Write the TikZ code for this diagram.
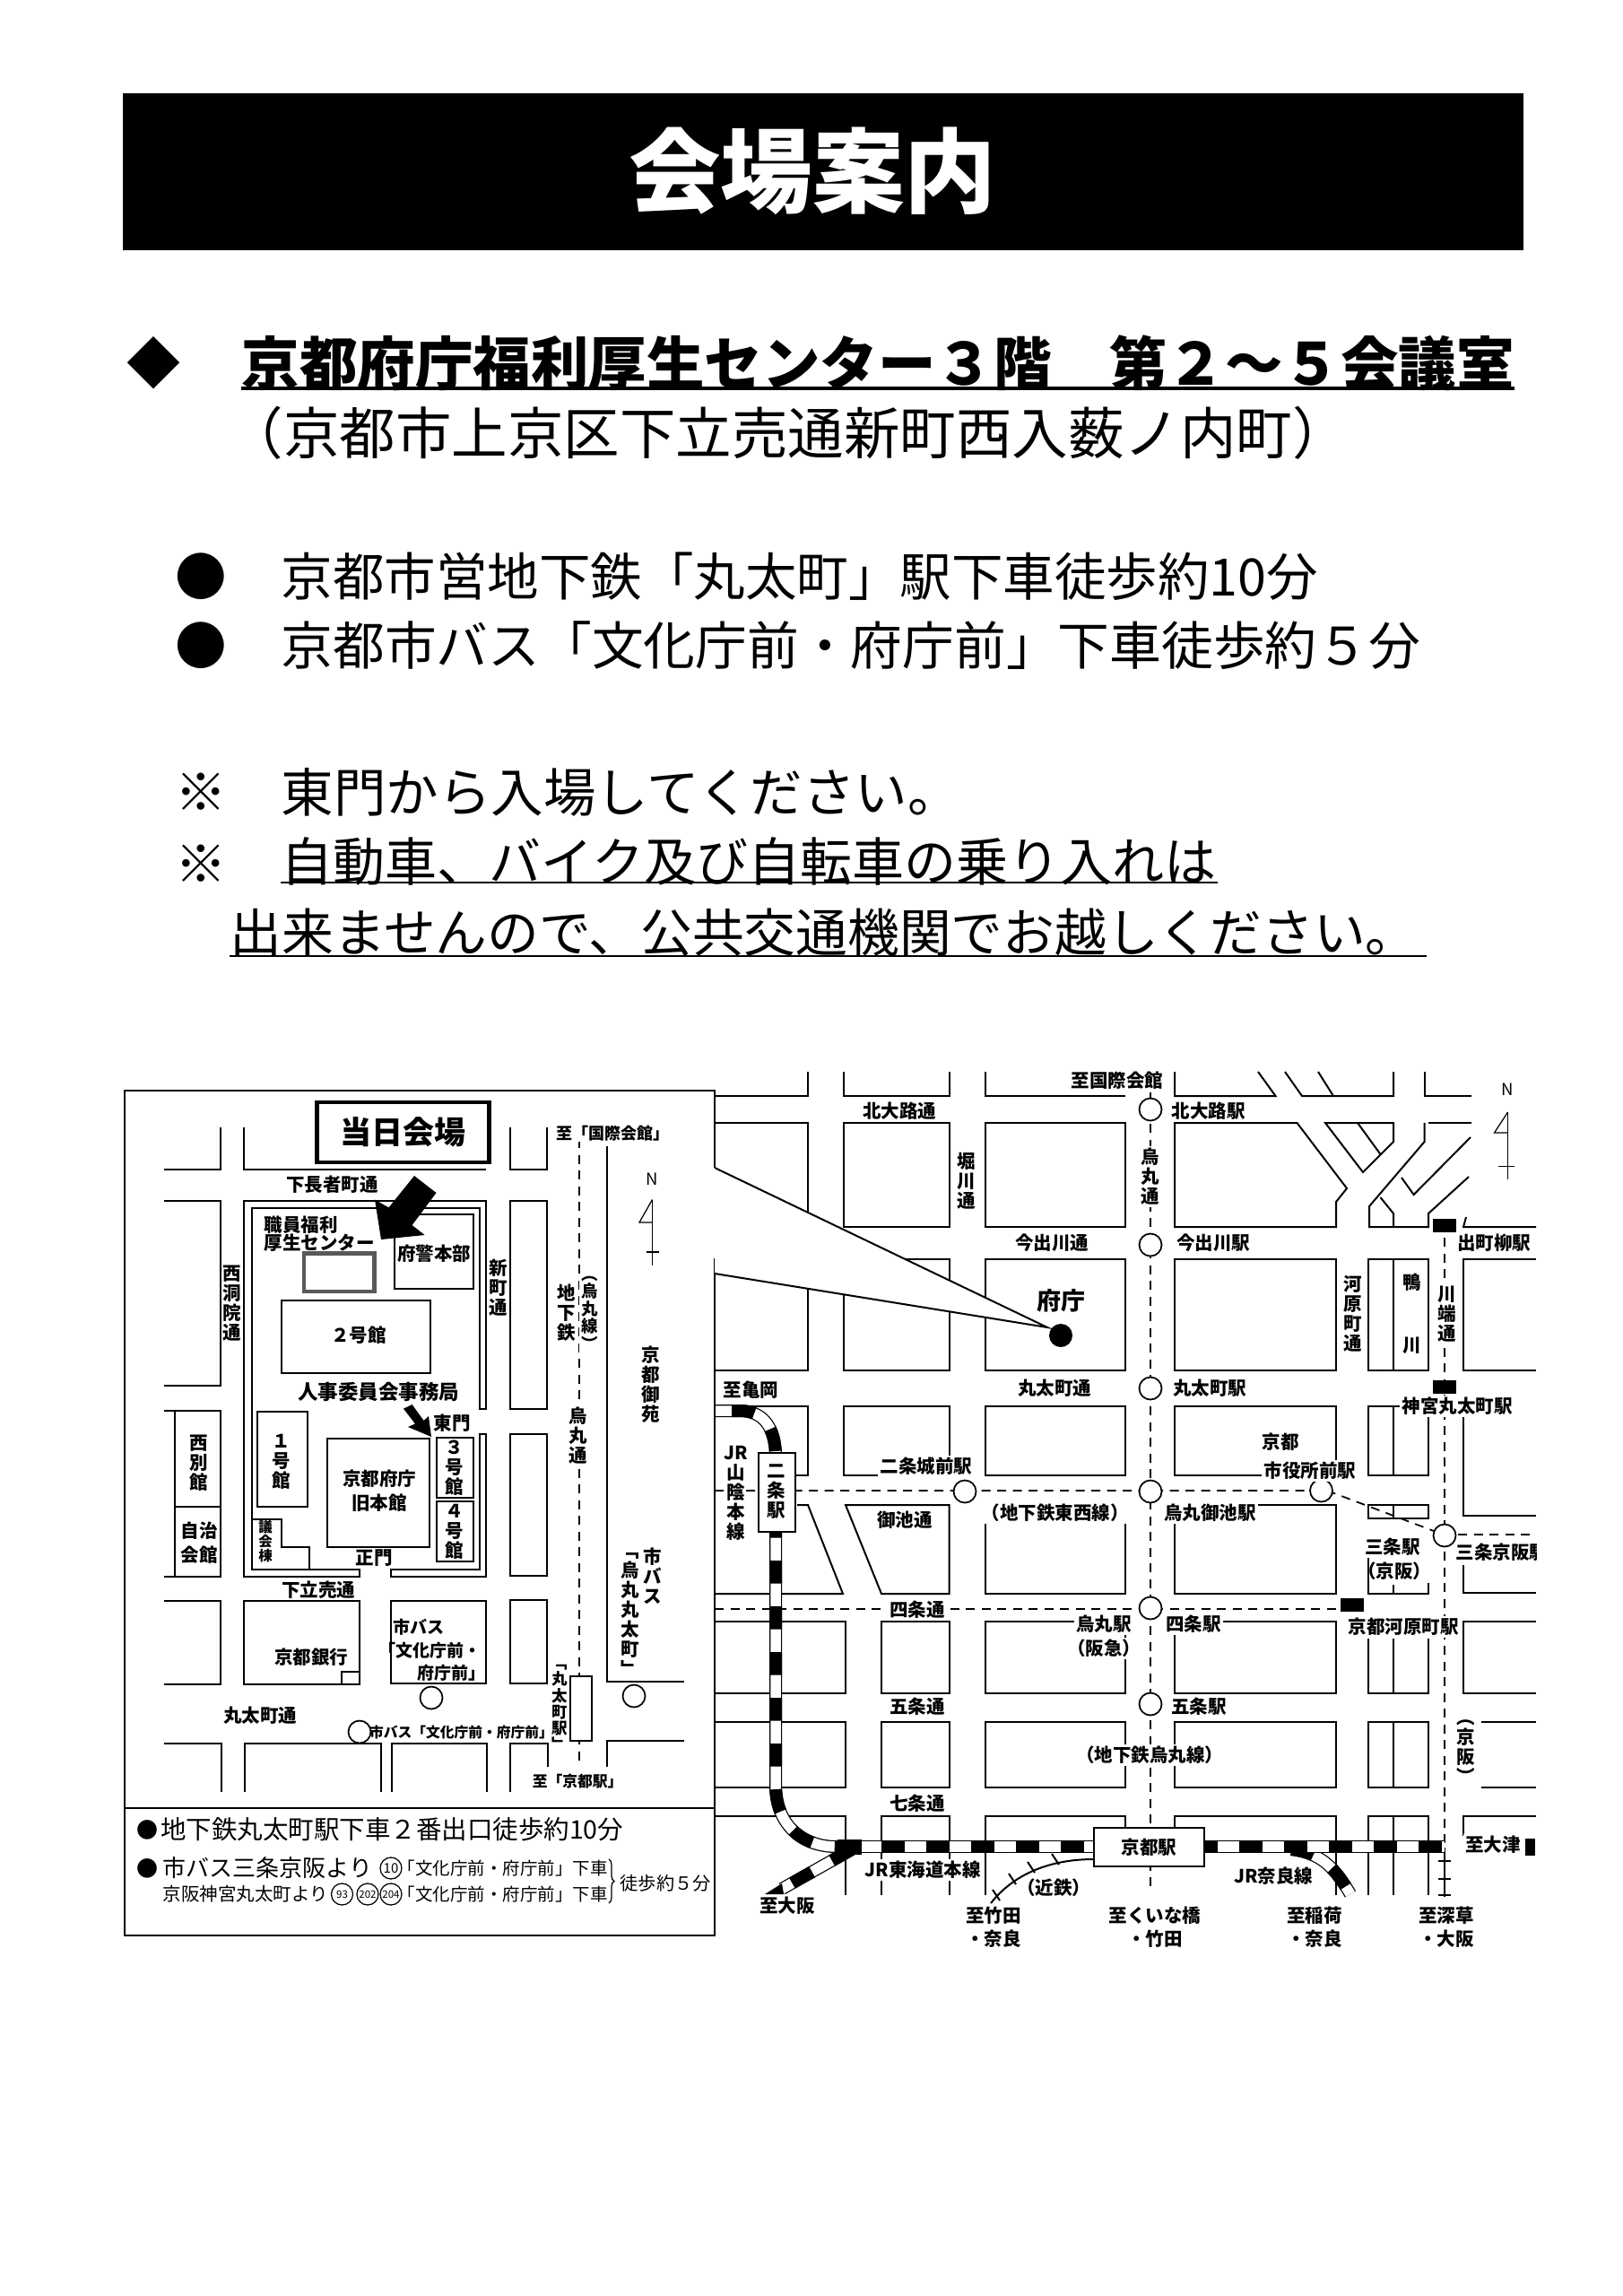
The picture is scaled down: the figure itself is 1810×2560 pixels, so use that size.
\documentclass[tikz,border=0pt]{standalone}
\usepackage{fontspec}
\setmainfont{Noto Sans CJK JP}
\usetikzlibrary{decorations.pathreplacing}
\tikzset{
	road/.style={draw=black, line width=.8pt},
	lab/.style={inner sep=0pt, font=\bfseries\fontsize{8.2}{8.8}\selectfont},
	wlab/.style={lab, fill=white, inner sep=1pt},
	vlab/.style={lab, align=center},
	wvlab/.style={wlab, align=center},
	small/.style={inner sep=0pt, font=\bfseries\fontsize{6.8}{7.4}\selectfont},
	legend/.style={inner sep=0pt, anchor=west, font=\fontsize{7.8}{9}\selectfont},
	bigline/.style={inner sep=0pt, anchor=west},
	metro/.style={line width=.7pt, dash pattern=on 4pt off 3pt},
	station/.style={draw, fill=white, circle, line width=.7pt, minimum size=10pt, inner sep=0pt},
	busno/.style={draw, circle, line width=.5pt, minimum size=9.6pt, inner sep=0pt, font=\fontsize{4.6}{5}\selectfont},
	trackout/.style={line width=5.6pt, draw=black},
	trackin/.style={line width=4.6pt, draw=white},
	trackdash/.style={line width=5.6pt, draw=black, dash pattern=on 10.2pt off 10.2pt},
}
\newcommand{\jrtrack}[2]{
	\draw[trackout] #1;
	\draw[trackin] #1;
	\draw[trackdash, #2] #1;
}
\begin{document}
\begin{tikzpicture}[x=.4pt, y=-.4pt]
	\useasboundingbox (0,0) rectangle (1810,2560);
	% heading
	\fill[black] (137,104) rectangle (1699,279);
	\node[text=white, font=\bfseries\fontsize{41}{44}\selectfont] (title) at (906,191) {会場案内};
	\node[inner sep=0pt, font=\fontsize{24}{26}\selectfont] (diamond) at (171,405) {◆};
	\node[bigline, font=\bfseries\fontsize{25.8}{28}\selectfont] (place) at (269,405) {京都府庁福利厚生センター３階　第２～５会議室};
	\draw[line width=1.3pt] (269,433) -- (1689,433);
	\node[bigline, font=\fontsize{25}{28}\selectfont] (addr) at (253,483) {（京都市上京区下立売通新町西入薮ノ内町）};
	\node[inner sep=0pt, font=\fontsize{23}{26}\selectfont] (dot1) at (224,643) {●};
	\node[bigline, font=\fontsize{23}{26}\selectfont] (subway) at (313,643) {京都市営地下鉄「丸太町」駅下車徒歩約10分};
	\node[inner sep=0pt, font=\fontsize{23}{26}\selectfont] (dot2) at (224,720) {●};
	\node[bigline, font=\fontsize{23.1}{26}\selectfont] (bus) at (313,720) {京都市バス「文化庁前・府庁前」下車徒歩約５分};
	\node[inner sep=0pt, font=\fontsize{23}{26}\selectfont] (note1) at (224,883) {※};
	\node[bigline, font=\fontsize{23.4}{26}\selectfont] (gate) at (313,883) {東門から入場してください。};
	\node[inner sep=0pt, font=\fontsize{23}{26}\selectfont] (note2) at (224,963) {※};
	\node[bigline, font=\fontsize{23.2}{26}\selectfont] (nocar1) at (313,961) {自動車、バイク及び自転車の乗り入れは};
	\draw[line width=.8pt] (313,984) -- (1358,984);
	\node[bigline, font=\fontsize{23.1}{26}\selectfont] (nocar2) at (256,1040) {出来ませんので、公共交通機関でお越しください。};
	\draw[line width=.8pt] (256,1066) -- (1591,1066);

	% city map: blocks
	\foreach \xa/\ya/\xb/\yb in {941/1252/1058.6/1368, 1099/1252/1254.6/1368,
		797/1404/901/1528, 941/1404/1058.6/1528, 1099/1404/1254.6/1528, 1310/1404/1490/1528, 1526/1404/1593/1528,
		941/1568/1058.6/1645, 1099/1568/1254.6/1645, 1310/1568/1490/1645, 1526/1568/1593/1645,
		1526/1678/1593/1693, 1099/1678/1254.6/1777, 1310/1678/1490/1777,
		983/1808/1058.6/1888, 1099/1808/1254.6/1888, 1310/1808/1490/1888,
		983/1920/1058.6/1993, 1099/1920/1254.6/1993, 1310/1920/1490/1993, 1526/1920/1593/1993}
		\draw[road] (\xa,\ya) rectangle (\xb,\yb);
	\foreach \ya/\yb in {1404/1528, 1568/1645, 1678/1693, 1827/1888, 1920/1993, 2025/2113, 1767/1777}
		\draw[road] (1554,\ya) -- (1554,\yb);
	% city map: open road edges
	\draw[road] (797,1222) -- (901,1222) -- (901,1195);
	\draw[road] (941,1195) -- (941,1222) -- (1058.6,1222) -- (1058.6,1195);
	\draw[road] (1099,1195) -- (1099,1222) -- (1254.6,1222);
	\draw[road] (1310,1195) -- (1310,1222) -- (1422.5,1222) -- (1403,1195);
	\draw[road] (1433,1195) -- (1452,1222) -- (1554,1222) -- (1554,1195);
	\draw[road] (1470,1195) -- (1487,1222);
	\draw[road] (1588.6,1195) -- (1588.6,1222) -- (1641,1222);
	\draw[road] (797,1252) -- (901,1252) -- (901,1368);
	\draw[road] (1310,1252) -- (1446.5,1252) -- (1502,1325) -- (1490,1340) -- (1490,1368) -- (1310,1368) -- cycle;
	\draw[road] (1478,1252) -- (1554,1252) -- (1554,1273) -- (1520,1307) -- cycle;
	\draw[road] (1514,1252) -- (1539.5,1287);
	\draw[road] (1588.6,1252) -- (1588.6,1273) -- (1527,1345) -- (1527,1368) -- (1593,1368) -- (1593,1353) -- (1638,1312);
	\draw[road] (1593,1252) -- (1641,1252);
	\draw[road] (1640,1268) -- (1576.6,1332) -- (1563,1313);
	\draw[road] (1539.4,1335) -- (1554,1353) -- (1554,1368);
	\draw[road] (1635,1357) -- (1632,1368) -- (1713,1368);
	\draw[road] (1713,1404) -- (1632,1404) -- (1632,1528) -- (1713,1528);
	\draw[road] (797,1568) -- (901,1568) -- (901,1645) -- (886,1645);
	\draw[road] (1632,1568) -- (1632,1690) -- (1713,1690);
	\draw[road] (889,1678) -- (901,1678) -- (940,1777) -- (797,1777);
	\draw[road] (943,1678) -- (1058.6,1678) -- (1058.6,1777) -- (983,1777) -- cycle;
	\draw[road] (1526,1727) -- (1526,1777) -- (1593,1777) -- (1593,1765);
	\draw[road] (1632,1745) -- (1632,1776) -- (1713,1776);
	\draw[road] (797,1808) -- (943,1808) -- (943,1888) -- (797,1888);
	\draw[road] (1526,1827) -- (1526,1888) -- (1593,1888) -- (1593,1827);
	\draw[road] (1713,1808) -- (1632,1808) -- (1632,1888) -- (1713,1888);
	\draw[road] (797,1920) -- (943,1920) -- (943,1993) -- (797,1993);
	\draw[road] (1651.5,1920) -- (1713,1920);
	\draw[road] (1651.5,1993) -- (1713,1993);
	\draw[road] (797,2025) -- (943,2025) -- (943,2113);
	\draw[road] (983,2113) -- (983,2025) -- (1058.6,2025) -- (1058.6,2113);
	\draw[road] (1099,2113) -- (1099,2025) -- (1254.6,2025) -- (1254.6,2040);
	\draw[road] (1310,2040) -- (1310,2025) -- (1490,2025) -- (1490,2113);
	\draw[road] (1526,2113) -- (1526,2025) -- (1593,2025) -- (1593,2113);
	\draw[road] (1713,2025) -- (1632,2025) -- (1632,2047);
	% city map: subway and private lines
	\draw[metro] (1283,1218) -- (1283,2108);
	\draw[metro] (797,1662) -- (1461,1662) -- (1488,1665) -- (1599,1707);
	\draw[metro] (1626,1711) -- (1713,1711);
	\draw[metro] (797,1794) -- (1494,1794);
	\draw[metro] (1611,1380) -- (1611,2060);
	\draw[road] (1611,2060) -- (1611,2115);
	\foreach \yy in {2075, 2095, 2113}
		\draw[road] (1604,\yy) -- (1618,\yy);
	\draw[road] (1220,2073) .. controls (1170,2073) and (1130,2090) .. (1105,2122);
	\foreach \xx/\yy in {1177/2073, 1150/2082, 1129/2095, 1111/2113}
		\draw[road] (\xx-4,\yy-6) -- (\xx+4,\yy+6);
	\foreach \yy/\nm in {1237/sta1, 1388/sta2, 1548/sta3, 1663/sta4, 1793/sta5, 1900/sta6}
		\node[station] (\nm) at (1283,\yy) {};
	\node[station] (staNijo)  at (1076,1663)   {};
	\node[station] (staCity)  at (1473.5,1662) {};
	\node[station] (staSanjo) at (1611,1712)   {};
	\fill[black] (1598,1358.5) rectangle (1624,1373.5);
	\fill[black] (1598,1538.5) rectangle (1624,1553.5);
	\fill[black] (1494.5,1781.5) rectangle (1520.5,1796.5);
	% JR lines
	\jrtrack{(950,2062) -- (872,2106)}{}
	\jrtrack{(1440,2062) .. controls (1475,2066) and (1490,2085) .. (1506,2112)}{}
	\jrtrack{(797,1573) -- (825,1573) .. controls (850,1573) and (865,1590) .. (865,1625)}{dash phase=12.8pt}
	\jrtrack{(865,1689) -- (865,1990) .. controls (865,2035) and (895,2059) .. (933,2059)}{}
	\jrtrack{(933,2059) -- (1222,2059)}{dash pattern=on 10.4pt off 9.6pt}
	\jrtrack{(1341,2059) -- (1611,2059)}{dash pattern=on 10.4pt off 9.6pt, dash phase=3.6pt}
	\fill[black] (934,2051) rectangle (961,2068);
	\fill[black] (853,2112) -- (872,2100) -- (874,2112) -- cycle;
	\node[draw, fill=white, line width=.8pt, minimum width=16.4pt, minimum height=35.2pt, inner sep=0pt] (nijobox) at (866.5,1664) {};
	\node[vlab] (nijo) at (866,1663) {二\\条\\駅};
	\node[draw, fill=white, line width=.8pt, minimum width=49.2pt, minimum height=17.2pt, inner sep=0pt, lab] (kyotosta) at (1281.5,2059.5) {京都駅};
	\fill[black] (1701,2050) rectangle (1712,2069);
	% callout from the venue map
	\path[fill=white, draw=black, line width=.8pt] (797,1302) -- (1168,1480) -- (797,1420);
	\fill[black] (1183,1489) circle (13);
	% city map: labels
	\node[lab] (toKokusai) at (1246,1205) {至国際会館};
	\node[lab] (kitaojiSt) at (1003,1239) {北大路通};
	\node[lab] (kitaojiEk) at (1347.5,1239) {北大路駅};
	\node[vlab] (horikawa) at (1078,1317) {堀\\川\\通};
	\node[wvlab] (karasuma) at (1283,1312) {烏\\丸\\通};
	\node[lab] (imadeSt) at (1173,1386) {今出川通};
	\node[lab] (imadeEk) at (1353,1386) {今出川駅};
	\node[lab, font=\bfseries\fontsize{10.8}{12}\selectfont] (futyo) at (1183,1450) {府庁};
	\node[vlab] (kawaramachi) at (1509,1465) {河\\原\\町\\通};
	\node[lab] (kamo) at (1575,1430) {鴨};
	\node[lab] (kawa) at (1575,1500) {川};
	\node[wvlab] (kawabata) at (1614,1465) {川\\端\\通};
	\node[wlab] (demachi) at (1666,1386) {出町柳駅};
	\node[lab] (maruSt) at (1176,1548) {丸太町通};
	\node[lab] (maruEk) at (1349,1548) {丸太町駅};
	\node[lab] (toKameoka) at (837.5,1550) {至亀岡};
	\node[wlab] (jingu) at (1625,1568) {神宮丸太町駅};
	\node[wlab, anchor=west] (cityA) at (1404.5,1608) {京都};
	\node[wlab] (cityB) at (1461,1640) {市役所前駅};
	\node[wlab] (nijojo) at (1033,1635) {二条城前駅};
	\node[vlab] (sanin) at (821,1665) {JR\\山\\陰\\本\\線};
	\node[lab] (oike) at (1009,1695) {御池通};
	\node[wlab] (tozai) at (1176.8,1687) {（地下鉄東西線）};
	\node[wlab] (oikeEk) at (1349.5,1687) {烏丸御池駅};
	\node[wlab] (sanjoA) at (1553,1725) {三条駅};
	\node[lab] (sanjoB) at (1555,1752) {（京阪）};
	\begin{scope}
		\clip (1600,1690) rectangle (1713,1770);
		\node[lab, anchor=west] (sanjoK) at (1623,1731) {三条京阪駅};
	\end{scope}
	\node[wlab] (shijoSt) at (1023,1795) {四条通};
	\node[wlab] (karaEk) at (1231,1811) {烏丸駅};
	\node[wlab] (hankyu) at (1231,1838) {（阪急）};
	\node[wlab] (shijoEk) at (1331,1811) {四条駅};
	\node[wlab] (kawaraEk) at (1565,1814) {京都河原町駅};
	\node[lab] (gojoSt) at (1023,1903) {五条通};
	\node[lab] (gojoEk) at (1337,1903) {五条駅};
	\node[wlab] (karaLine) at (1282,1957) {（地下鉄烏丸線）};
	\node[wvlab] (keihan) at (1635,1953) {︵\\京\\阪\\︶};
	\node[lab] (shichijo) at (1023,2011) {七条通};
	\node[wlab] (tokaido) at (1029,2085) {JR東海道本線};
	\node[wlab] (naraLine) at (1420,2092) {JR奈良線};
	\node[lab] (kintetsu) at (1175,2105) {（近鉄）};
	\node[wlab] (toOtsu) at (1665,2057) {至大津};
	\node[lab] (toOsaka) at (878,2125) {至大阪};
	\node[lab, align=center] (toTakeda) at (1108,2149) {至竹田\\[1.6pt]・奈良};
	\node[lab, align=center] (toKuina) at (1288,2149) {至くいな橋\\[1.6pt]・竹田};
	\node[lab, align=center] (toInari) at (1466,2149) {至稲荷\\[1.6pt]・奈良};
	\node[lab, align=center] (toFuka) at (1613,2149) {至深草\\[1.6pt]・大阪};
	\node[inner sep=0pt, font=\fontsize{7.4}{8}\selectfont] (northB) at (1681.5,1215) {N};
	\draw[road, line width=.5pt] (1681.5,1240) -- (1681.5,1315);
	\draw[road, line width=.5pt] (1681.5,1240) -- (1666.5,1263) -- (1681.5,1263);
	\draw[road, line width=.5pt] (1671,1300.7) -- (1689,1300.7);

	% venue map: frame
	\draw[road] (797,1302) -- (797,1216) -- (139,1216) -- (139,2158) -- (797,2158) -- (797,1420);
	\draw[road] (139,2016) -- (797,2016);
	% venue map: blocks
	\foreach \xa/\ya/\xb/\yb in {569/1339/610/1571, 569/1599/610/1757, 272/1785/401/1878, 436/1785/542/1877,
		569/1784/610/1877, 381/1864/401/1878, 440/1354/528/1437, 313.5/1450/479.5/1531, 287/1574/342.5/1680,
		487/1603/528/1670, 487/1674/528/1741}
		\draw[road] (\xa,\ya) rectangle (\xb,\yb);
	\draw[road, line width=.5pt] (365,1604) rectangle (479,1725);
	\draw[road] (246,1257) -- (246,1304) -- (183,1304);
	\draw[road] (272,1257) -- (272,1304) -- (542,1304);
	\draw[road] (569,1257) -- (569,1304) -- (610,1304) -- (610,1257);
	\draw[road] (183,1339) -- (246,1339) -- (246,1545) -- (183,1545);
	\draw[road] (183,1573) -- (246,1573) -- (246,1758) -- (183,1758);
	\draw[road] (195,1573) -- (195,1758);
	\draw[road] (195,1680) -- (246,1680);
	\draw[road] (183,1785) -- (246,1785) -- (246,1878) -- (183,1878);
	\draw[road] (183,1944) -- (247,1944) -- (247,1998);
	\draw[road] (273,1998) -- (273,1944) -- (425,1944) -- (425,1998);
	\draw[road] (437,1998) -- (437,1944) -- (543,1944) -- (543,1998);
	\draw[road] (569,1998) -- (569,1944) -- (611,1944) -- (611,1970);
	\draw[road] (677,1278) -- (677,1875) -- (763,1875);
	\draw[road] (763,1941) -- (677,1941) -- (677,1970);
	% venue map: compound walls
	\draw[road] (542,1571) -- (542,1339) -- (272,1339) -- (272,1758) -- (401,1758) -- (401,1750) -- (281,1750) -- (281,1347) -- (535,1347) -- (535,1571) -- cycle;
	\draw[road] (542,1599) -- (542,1758) -- (436,1758) -- (436,1750) -- (535,1750) -- (535,1599) -- cycle;
	\draw[road] (281,1693.5) -- (313.5,1693.5) -- (313.5,1725) -- (345,1725) -- (345,1750);
	\draw[draw=black!65, line width=1.9pt] (339,1397.5) rectangle (417.5,1440);
	\draw[metro, line width=.6pt] (646,1270) -- (646,1970);
	% venue map: arrows
	\fill[black] (462,1311) -- (486.5,1330) -- (459.6,1366) -- (473.5,1377) -- (425,1382) -- (418,1337.5) -- (433.5,1346.4) -- cycle;
	\fill[black] (450,1570.7) -- (459.6,1566) -- (472.6,1584) -- (478,1579) -- (481,1602) -- (455,1591) -- (463,1587.5) -- cycle;
	\node[draw, fill=white, line width=1.9pt, minimum width=77pt, minimum height=26.8pt, inner sep=0pt, font=\bfseries\fontsize{14}{16}\selectfont] (today) at (449.5,1262.5) {当日会場};
	\node[station, minimum size=10pt] (busA) at (481,1893) {};
	\node[station, minimum size=10pt] (busB) at (707,1891) {};
	\node[station, minimum size=10pt] (busC) at (401,1931) {};
	\node[draw, fill=white, line width=.8pt, minimum width=9.6pt, minimum height=28.8pt, inner sep=0pt] (maruBox) at (648,1905) {};
	% venue map: labels
	\node[small, fill=white, font=\bfseries\fontsize{7.2}{7.4}\selectfont] (toIntl) at (683,1264) {至「国際会館」};
	\node[lab] (shimoCho) at (370.5,1321) {下長者町通};
	\node[lab, anchor=west] (welfareA) at (294,1366) {職員福利};
	\node[lab, anchor=west] (welfareB) at (294,1386) {厚生センター};
	\node[lab] (police) at (484,1398) {府警本部};
	\node[vlab] (nishinoto) at (259,1453) {西\\洞\\院\\通};
	\node[vlab] (shinmachi) at (556,1436) {新\\町\\通};
	\node[lab] (bldg2) at (400,1489) {２号館};
	\node[lab, fill=white, font=\bfseries\fontsize{9}{10}\selectfont] (jinji) at (422,1552) {人事委員会事務局};
	\node[lab] (eastgate) at (504,1587) {東門};
	\node[vlab] (bldg1) at (314,1630) {１\\号\\館};
	\node[vlab] (bldg3) at (507,1637) {３\\号\\館};
	\node[vlab] (bldg4) at (507,1708) {４\\号\\館};
	\node[lab, align=center] (oldmain) at (423,1662) {京都府庁\\[2pt]旧本館};
	\node[vlab] (nishibekkan) at (222,1631) {西\\別\\館};
	\node[lab, align=center] (jichi) at (222,1720) {自治\\[2pt]会館};
	\node[vlab, font=\bfseries\fontsize{6.2}{6.4}\selectfont] (gikai) at (296,1719) {議\\会\\棟};
	\node[lab] (seimon) at (417,1737.5) {正門};
	\node[vlab] (chika) at (632,1464) {地\\下\\鉄};
	\node[wvlab, font=\bfseries\fontsize{7.4}{7.8}\selectfont] (karasen) at (658,1464) {︵\\烏\\丸\\線\\︶};
	\node[wvlab] (karadori) at (645,1601) {烏\\丸\\通};
	\node[vlab] (gyoen) at (726,1544) {京\\都\\御\\苑};
	\node[inner sep=0pt, font=\fontsize{7.4}{8}\selectfont] (northA) at (727.5,1315) {N};
	\draw[road, line width=.5pt] (727.5,1337.5) -- (727.5,1411);
	\draw[road, line width=.5pt] (727.5,1337.5) -- (713,1363) -- (727.5,1363);
	\draw[road, line width=.5pt] (720.6,1396) -- (735,1396);
	\node[vlab] (busV) at (728,1757) {市\\バ\\ス};
	\node[vlab] (busMaru) at (703,1800) {﹁\\烏\\丸\\丸\\太\\町\\﹂};
	\node[lab] (shimotachi) at (355,1773) {下立売通};
	\node[lab] (kyobank) at (347,1848) {京都銀行};
	\node[small, anchor=west, font=\bfseries\fontsize{7.6}{8}\selectfont] (busBA) at (438,1814) {市バス};
	\node[small, anchor=east, font=\bfseries\fontsize{7.6}{8}\selectfont] (busBB) at (537,1840) {「文化庁前・};
	\node[small, anchor=east, font=\bfseries\fontsize{7.6}{8}\selectfont] (busBC) at (542,1865) {府庁前」};
	\node[lab] (maruRoad) at (290,1913) {丸太町通};
	\node[small, font=\bfseries\fontsize{6.3}{7}\selectfont] (busName) at (514.5,1931) {市バス「文化庁前・府庁前」};
	\node[vlab, font=\bfseries\fontsize{7}{7.3}\selectfont] (maruEki) at (624,1904) {﹁\\丸\\太\\町\\駅\\﹂};
	\node[small, font=\bfseries\fontsize{6.7}{7}\selectfont] (toKyoto) at (644,1986) {至「京都駅」};
	% venue map: directions
	\node[inner sep=0pt, font=\fontsize{9.6}{10}\selectfont] (dotA) at (164,2040) {●};
	\node[legend, font=\fontsize{11.4}{12}\selectfont] (walkA) at (178.6,2040) {地下鉄丸太町駅下車２番出口徒歩約10分};
	\node[inner sep=0pt, font=\fontsize{9.6}{10}\selectfont] (dotB) at (164,2083) {●};
	\node[legend, font=\fontsize{10.4}{12}\selectfont] (walkB) at (181,2083) {市バス三条京阪より};
	\node[busno, font=\fontsize{6}{6}\selectfont] (bus10) at (436,2083) {10};
	\node[legend] (walkC) at (443,2083) {「文化庁前・府庁前」下車};
	\node[legend, font=\fontsize{8.2}{9}\selectfont] (walkD) at (181,2112) {京阪神宮丸太町より};
	\node[busno] (bus93) at (381.5,2112) {93};
	\node[busno] (bus202) at (410,2112) {202};
	\node[busno] (bus204) at (436,2112) {204};
	\node[legend] (walkE) at (443,2112) {「文化庁前・府庁前」下車};
	\draw[line width=.5pt, decorate, decoration={brace, amplitude=2.4pt}] (679,2073) -- (679,2122);
	\node[legend, font=\fontsize{8.1}{9}\selectfont] (walkF) at (691,2100) {徒歩約５分};
\end{tikzpicture}
\end{document}
